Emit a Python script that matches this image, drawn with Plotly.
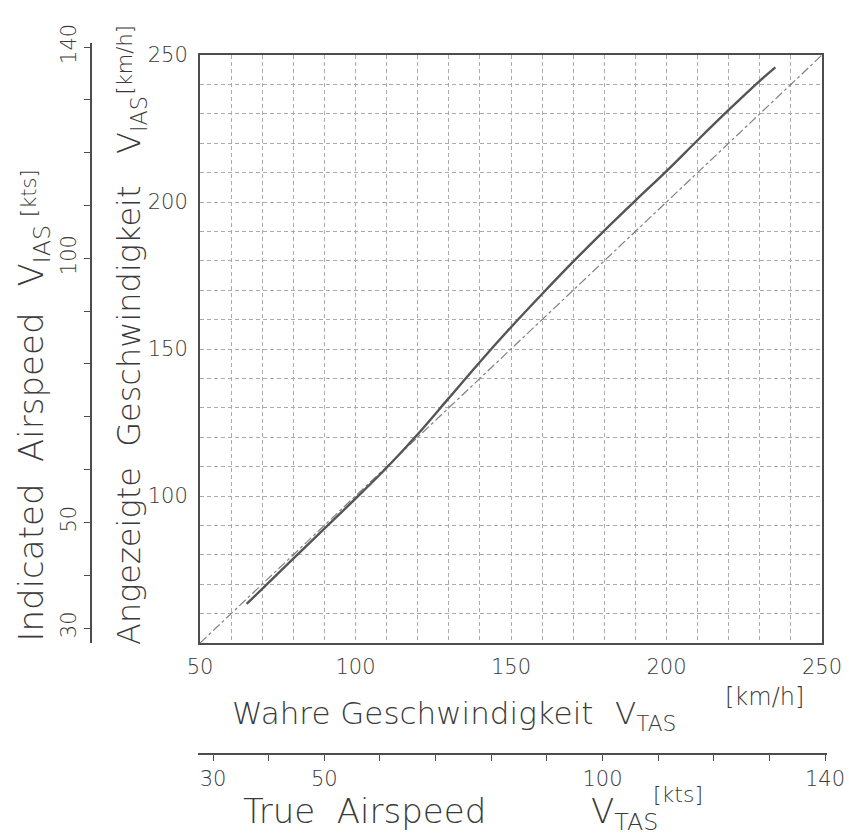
import plotly.graph_objects as go

# ---------------- data ----------------
tas_kmh = [65, 70, 80, 90, 100, 110, 120, 130, 140, 150, 160, 170, 180, 190, 200, 210, 220, 230, 235]
ias_kmh = [63.3, 68.4, 78.7, 88.9, 99.1, 109.6, 121.0, 133.3, 145.6, 157.4, 168.7, 179.7,
           190.3, 200.5, 210.5, 221.0, 231.3, 241.2, 245.8]
ref_tas = [50, 250]
ref_ias = [50, 250]

kmh_ticks_x = [50, 100, 150, 200, 250]
kmh_ticks_y = [100, 150, 200, 250]
kmh_grid = list(range(50, 251, 10))
kts_ticks = list(range(30, 141, 10))
kts_labels = ['30', '', '50', '', '', '', '', '100', '', '', '', '140']

# ---------------- geometry helpers ----------------
W, H = 849, 837
def fx(px):
    return px / W
def fy(py):
    return 1 - py / H

INK = '#3a3a3a'
FONT = 'DejaVu Sans'
GRID = '#ababab'

fig = go.Figure()
# secondary knots scales (drawn first, transparent)
fig.add_trace(go.Scatter(x=[], y=[], xaxis='x2', yaxis='y2', mode='lines'))
fig.add_trace(go.Scatter(x=ref_tas, y=ref_ias, mode='lines',
                         line=dict(color='#808080', width=1.2, dash='dashdot'),
                         hoverinfo='skip'))
fig.add_trace(go.Scatter(x=tas_kmh, y=ias_kmh, mode='lines',
                         line=dict(color='#555555', width=2.4, shape='spline', smoothing=1.0),
                         hoverinfo='skip'))

tickfont = dict(family=FONT, size=21, color=INK, weight=300)

axis_common = dict(showline=True, linecolor='#4d4d4d', linewidth=2, mirror=True,
                   showgrid=True, gridcolor=GRID, gridwidth=1, griddash='4px,3px',
                   zeroline=False, ticks='', tickfont=tickfont, fixedrange=True,
                   minor=dict(tickvals=kmh_grid, showgrid=True, gridcolor=GRID,
                              gridwidth=1, griddash='4px,3px', ticks=''))

fig.update_layout(
    width=W, height=H,
    margin=dict(l=0, r=0, t=0, b=0, autoexpand=False),
    paper_bgcolor='white', plot_bgcolor='rgba(0,0,0,0)',
    showlegend=False,
    xaxis=dict(domain=[fx(200), fx(822)], range=[50, 250], tickvals=kmh_ticks_x,
               ticklabelstandoff=4, anchor='y', **axis_common),
    yaxis=dict(domain=[fy(643), fy(55)], range=[50, 250], tickvals=kmh_ticks_y,
               ticklabelstandoff=6, anchor='x', **axis_common),
    xaxis2=dict(domain=[fx(198), fx(827)], anchor='free', position=fy(754),
                range=[27.30, 140.36], tickvals=kts_ticks, ticktext=kts_labels,
                showline=True, linecolor='#4d4d4d', linewidth=1.5, ticks='outside',
                ticklen=6, tickcolor='#4d4d4d', showgrid=False, zeroline=False,
                ticklabelstandoff=0, tickfont=tickfont, fixedrange=True),
    yaxis2=dict(domain=[fy(643), fy(43)], anchor='free', position=fx(91),
                range=[27.16, 140.76], tickvals=kts_ticks, ticktext=kts_labels,
                showline=True, linecolor='#4d4d4d', linewidth=1.5, ticks='outside',
                ticklen=6, tickcolor='#4d4d4d', tickangle=-90, showgrid=False,
                zeroline=False, tickfont=tickfont, fixedrange=True),
)

def ann(text, x, y, size, xanchor='left', yanchor='top', angle=0):
    fig.add_annotation(text=text, xref='paper', yref='paper', x=fx(x), y=fy(y),
                       xanchor=xanchor, yanchor=yanchor, textangle=angle,
                       showarrow=False, borderpad=0,
                       font=dict(family=FONT, size=size, color=INK, weight=300))

# horizontal titles
ann('Wahre Geschwindigkeit', 231, 694, 31)
ann('V<sub>TAS</sub>', 614, 694, 31)
ann('[km/h]', 724, 682, 24)
ann('True&nbsp; Airspeed', 242, 790, 34)
ann('V<sub>TAS</sub>', 590, 790, 34)
ann('[kts]', 652, 781, 22)

# vertical titles (reading bottom to top)
ann('Angezeigte&nbsp; Geschwindigkeit', 109, 646, 32, yanchor='bottom', angle=-90)
ann('V<sub>IAS</sub>', 109, 155, 32, yanchor='bottom', angle=-90)
ann('[km/h]', 112, 96, 21, yanchor='bottom', angle=-90)
ann('Indicated&nbsp; Airspeed', 9, 643, 34, yanchor='bottom', angle=-90)
ann('V<sub>IAS</sub>', 9, 288, 34, yanchor='bottom', angle=-90)
ann('[kts]', 16, 218, 21, yanchor='bottom', angle=-90)

fig.write_html('out.html')
